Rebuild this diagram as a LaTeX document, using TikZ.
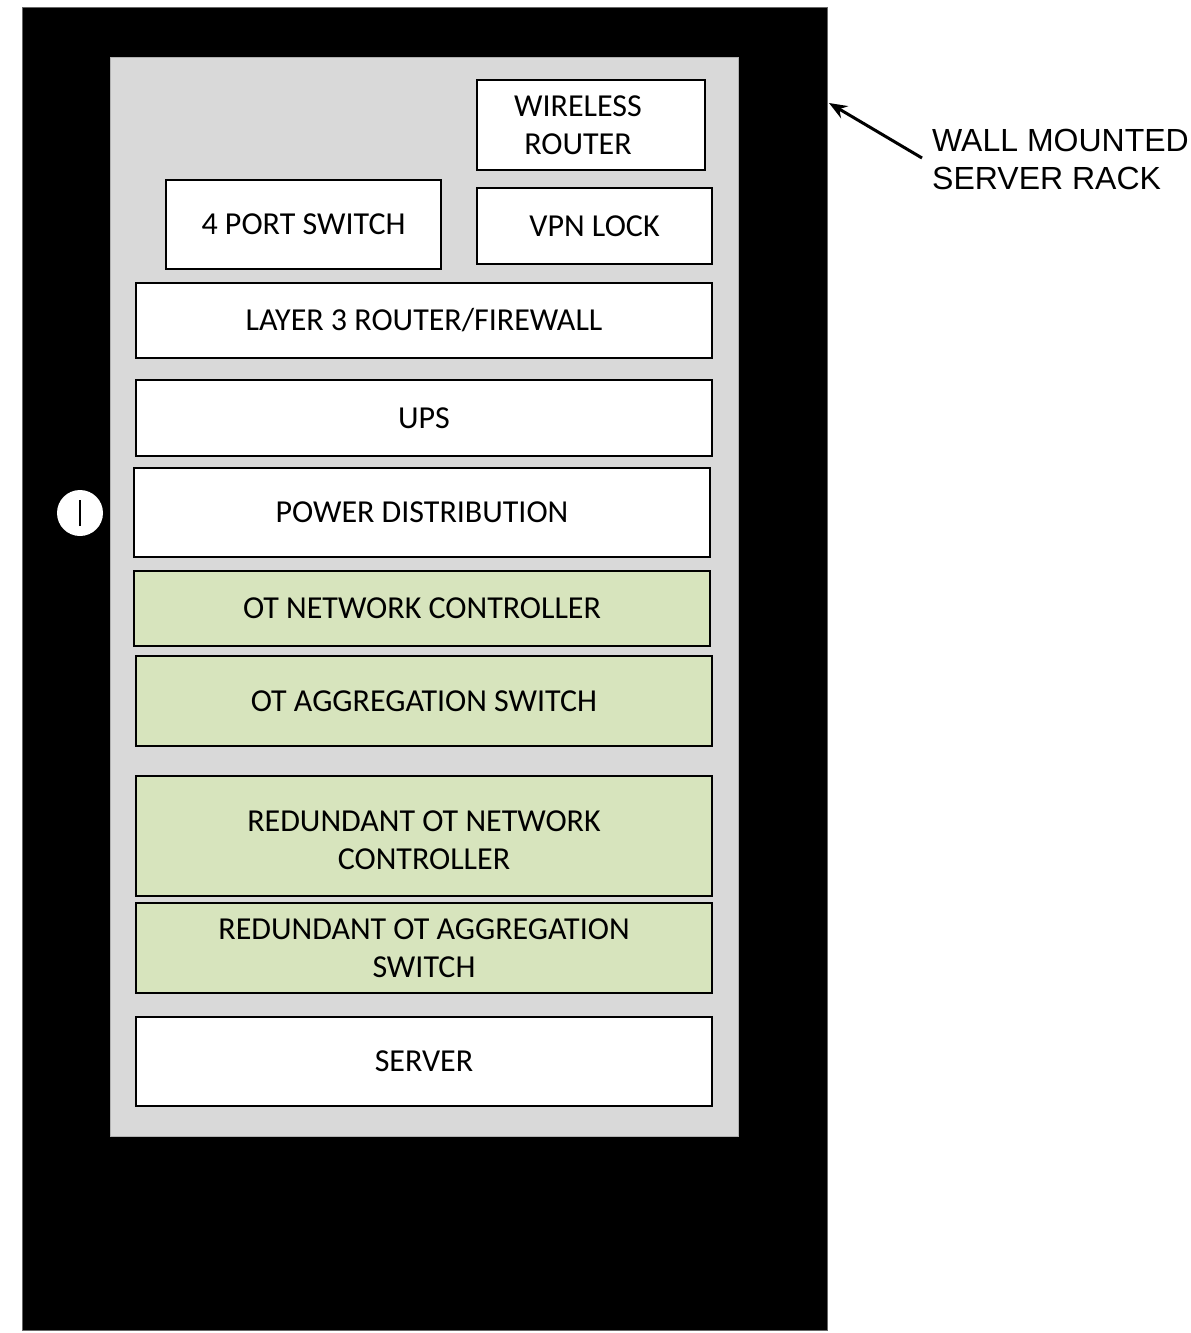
\documentclass[tikz,border=0pt]{standalone}
\usepackage{fontspec}
\setmainfont{Carlito}
\newfontfamily\arialf{Liberation Sans}
\usetikzlibrary{arrows.meta}
\definecolor{rackgray}{HTML}{D9D9D9}
\definecolor{otgreen}{HTML}{D7E4BD}
\tikzset{
  unit/.style={draw=black, line width=2pt, fill=white, inner sep=0pt, anchor=center,
     font=\fontsize{32}{38}\selectfont, align=center},
  otunit/.style={unit, fill=otgreen},
}
\newcommand{\ubox}[7]{% style, name, x1, y1, x2, y2, text
  \node[#1, minimum width={(#5-#3)*1pt}, minimum height={(#6-#4)*1pt}] (#2) at ({(#3+#5)/2},{(#4+#6)/2}) {#7};}
\begin{document}
\begin{tikzpicture}[x=1pt,y=-1pt]
\useasboundingbox (0,0) rectangle (1191,1333);
\node[fill=black, draw=black!60, line width=0.7pt, minimum width=805pt, minimum height=1323pt, inner sep=0pt] (rack) at (424.5,668.5) {};
\node[fill=rackgray, draw=black!30, line width=0.7pt, minimum width=628pt, minimum height=1079pt, inner sep=0pt] (panel) at (424,596.5) {};
\ubox{unit}{wr}{477}{80}{705}{170}{}
\node[font=\fontsize{32}{38}\selectfont, align=center] (wrtext) at (578,125) {WIRELESS\\ROUTER};
\ubox{unit}{sw}{166}{180}{441}{269}{4 PORT SWITCH}
\ubox{unit}{vpn}{477}{188}{712}{264}{VPN LOCK}
\ubox{unit}{l3}{136}{283}{712}{358}{LAYER 3 ROUTER/FIREWALL}
\ubox{unit}{ups}{136}{380}{712}{456}{UPS}
\ubox{unit}{pd}{134}{468}{710}{557}{POWER DISTRIBUTION}
\ubox{otunit}{otnc}{134}{571}{710}{646}{OT NETWORK CONTROLLER}
\ubox{otunit}{otas}{136}{656}{712}{746}{OT AGGREGATION SWITCH}
\ubox{otunit}{rotnc}{136}{776}{712}{896}{}
\node[font=\fontsize{32}{38}\selectfont, align=center] (rotnctext) at (424,840) {REDUNDANT OT NETWORK\\CONTROLLER};
\ubox{otunit}{rotas}{136}{903}{712}{993}{REDUNDANT OT AGGREGATION\\SWITCH}
\ubox{unit}{srv}{136}{1017}{712}{1106}{SERVER}
\node[circle, fill=white, minimum size=46pt, inner sep=0pt] (knob) at (80,513) {};
\draw[line width=2pt] ([yshift=-13pt]knob.center) -- ([yshift=13pt]knob.center);
\node[font=\arialf\fontsize{32}{38}\selectfont, align=left, anchor=west, inner sep=0pt] (label) at (932,159) {WALL MOUNTED\\SERVER RACK};
\coordinate (tip) at (829,103);
\draw[line width=3pt, -{Stealth[length=18pt,width=14pt,inset=6pt]}] (922,158) -- (tip);
\end{tikzpicture}
\end{document}
